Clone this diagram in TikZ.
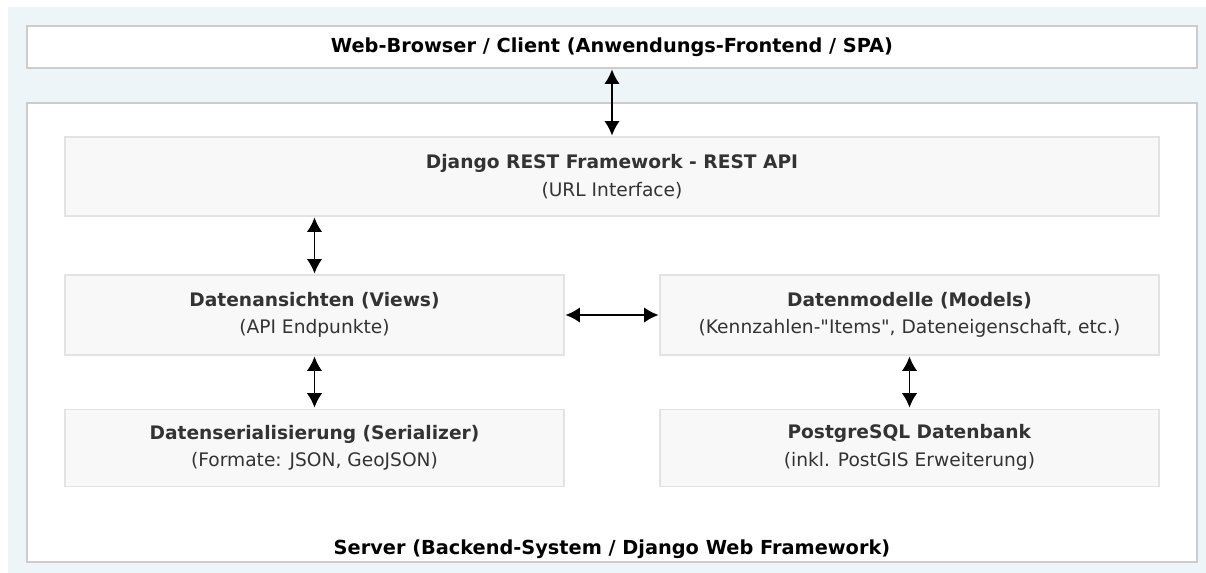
\documentclass[tikz,border=0pt]{standalone}
\usepackage{fontspec}
\setmainfont{DejaVu Sans}
\usetikzlibrary{positioning,arrows.meta}
\definecolor{bgblue}{HTML}{EEF5F9}
\definecolor{outerline}{HTML}{CCCCCC}
\definecolor{innerfill}{HTML}{F8F8F8}
\definecolor{innerline}{HTML}{E3E3E3}
\definecolor{textgray}{HTML}{333333}

\begin{document}
\begin{tikzpicture}[
  outerbox/.style={draw=outerline, fill=white, line width=0.6pt, inner sep=0pt, minimum width=23.4cm},
  innerbox/.style={draw=innerline, fill=innerfill, line width=0.6pt, inner sep=0pt, align=center,
    text=textgray, font=\fontsize{10.6}{15.6}\selectfont},
  link/.style={{Latex[length=2.9mm,width=3.1mm]}-{Latex[length=2.9mm,width=3.1mm]}, line width=1.1pt, shorten >=0.5pt, shorten <=0.5pt},
  heading/.style={font=\fontsize{11}{15}\selectfont\bfseries}
]
% background and bounding box
\fill[white] (0,0) rectangle (24.12,-11.46);
\fill[bgblue] (0.16,-0.14) rectangle (24.12,-11.46);

\node (client)[outerbox, minimum height=0.84cm, heading] at (12.24,-0.94) {Web-Browser / Client (Anwendungs-Frontend / SPA)};
\node (server)[outerbox, minimum height=9.18cm] at (12.24,-6.65) {};
\node (serverlabel)[heading] at (12.24,-10.98) {Server (Backend-System / Django Web Framework)};

\node (restapi)[innerbox, minimum width=21.88cm, minimum height=1.58cm] at (12.24,-3.53)
  {\textbf{Django REST Framework - REST API}\\(URL Interface)};
\node (views)[innerbox, minimum width=9.98cm, minimum height=1.6cm] at (6.29,-6.30)
  {\textbf{Datenansichten (Views)}\\(API Endpunkte)};
\node (models)[innerbox, minimum width=9.98cm, minimum height=1.6cm] at (18.19,-6.30)
  {\textbf{Datenmodelle (Models)}\\(Kennzahlen-\textquotedbl Items\textquotedbl, Dateneigenschaft, etc.)};
\node (serializer)[innerbox, minimum width=9.98cm, minimum height=1.54cm, below=1.06cm of views]
  {\textbf{Datenserialisierung (Serializer)}\\(Formate: JSON, GeoJSON)};
\node (database)[innerbox, minimum width=9.98cm, minimum height=1.54cm, below=1.06cm of models]
  {\textbf{PostgreSQL Datenbank}\\(inkl. PostGIS Erweiterung)};

\draw[link] (client) -- (restapi);
\draw[link] (restapi.south -| views.north) -- (views.north);
\draw[link] (views) -- (models);
\draw[link] (views) -- (serializer);
\draw[link] (models) -- (database);
\end{tikzpicture}
\end{document}
